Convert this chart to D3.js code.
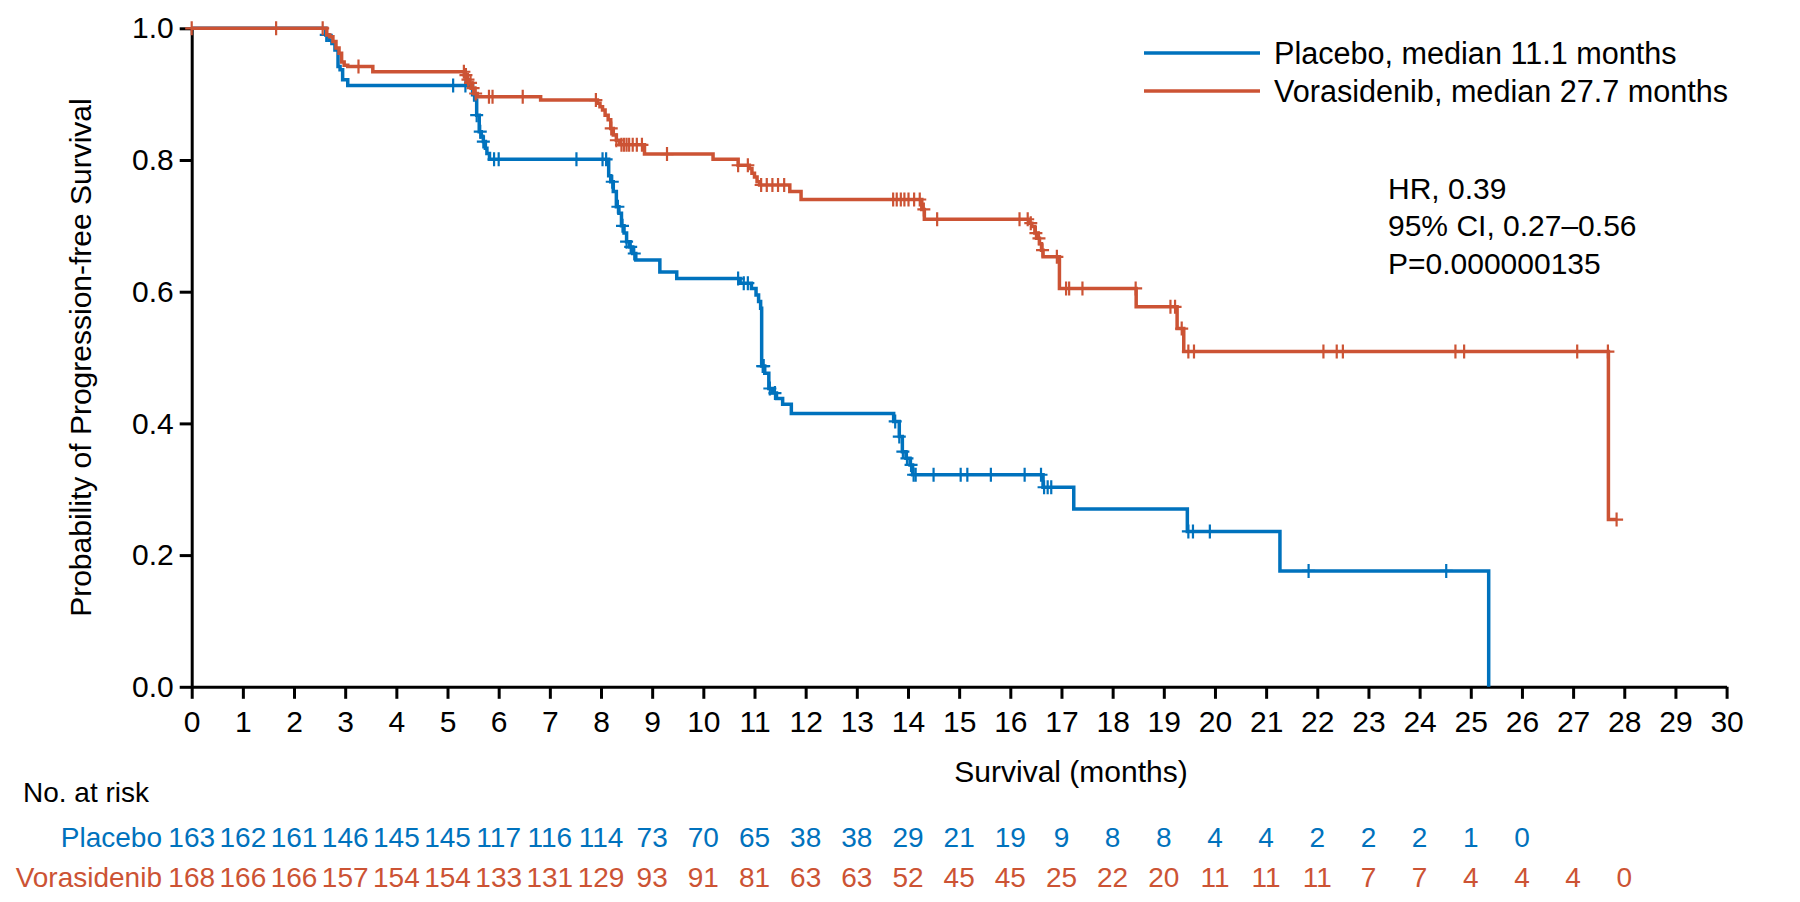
<!DOCTYPE html>
<html><head><meta charset="utf-8">
<script src="https://cdn.jsdelivr.net/npm/d3@7"></script>
<style>
body{margin:0;background:#fff;}
svg text{font-family:"Liberation Sans",Arial,Helvetica,sans-serif;}
</style></head><body>
<svg id="chart" width="1800" height="902"></svg>
<script>
// ---------------- data ----------------
const xTickValues = [0,1,2,3,4,5,6,7,8,9,10,11,12,13,14,15,16,17,18,19,20,21,22,23,24,25,26,27,28,29,30];
const yTickValues = [0,0.2,0.4,0.6,0.8,1.0];

// Placebo KM steps: time (months) and survival after the step
const placeboTimes = [2.62,2.68,2.74,2.80,2.86,2.90,2.95,3.05,
  5.49,5.53,5.57,5.62,5.66,5.70,5.74,5.77,5.82,
  8.15,8.19,8.24,8.30,8.35,8.40,8.45,8.50,8.56,8.62,8.68,
  9.15,9.48,10.72,10.94,11.03,11.08,11.12,11.14,11.20,11.28,11.35,11.43,11.55,11.72,
  13.72,13.83,13.89,13.96,14.04,14.09,16.64,17.24,19.46,21.27,25.35];
const placeboSurv = [0.990,0.982,0.977,0.967,0.942,0.937,0.922,0.913,
  0.899,0.891,0.868,0.843,0.835,0.828,0.818,0.810,0.801,
  0.776,0.767,0.752,0.729,0.719,0.700,0.689,0.676,0.668,0.658,0.648,
  0.630,0.620,0.613,0.605,0.595,0.585,0.575,0.487,0.476,0.453,0.446,0.438,0.429,0.415,
  0.403,0.380,0.357,0.347,0.337,0.322,0.303,0.270,0.236,0.176,0.000];
const placeboCensor = [2.63,5.11,5.35,5.57,5.64,5.70,5.91,6.00,7.52,8.03,8.10,8.22,8.33,8.42,8.50,8.58,8.65,
  10.68,10.79,10.87,11.16,11.18,11.30,11.40,13.75,13.83,13.90,13.98,14.06,14.11,14.15,14.50,15.03,15.16,15.62,
  16.28,16.60,16.66,16.73,16.80,19.48,19.57,19.90,21.83,24.52];
const placeboEnd = 25.35;

// Vorasidenib KM steps
const vorasTimes = [2.64,2.70,2.76,2.82,2.88,2.93,2.98,3.05,3.54,
  5.33,5.37,5.42,5.47,5.53,5.58,6.82,
  7.93,7.98,8.03,8.08,8.14,8.19,8.24,8.30,8.36,8.85,10.19,
  10.68,10.90,10.95,11.00,11.05,11.10,11.69,11.91,
  14.27,14.32,16.37,16.42,16.48,16.52,16.57,16.61,16.64,16.96,18.46,19.26,19.39,27.69];
const vorasSurv = [0.990,0.987,0.980,0.970,0.962,0.949,0.944,0.942,0.934,
  0.929,0.922,0.917,0.909,0.901,0.896,0.891,
  0.886,0.881,0.876,0.868,0.861,0.848,0.838,0.830,0.823,0.809,0.801,
  0.792,0.787,0.780,0.774,0.767,0.762,0.752,0.740,
  0.725,0.710,0.704,0.699,0.689,0.681,0.673,0.663,0.653,0.605,0.577,0.544,0.509,0.254];
const vorasCensor = [0.0,1.65,2.56,3.26,5.32,5.36,5.40,5.45,5.50,5.55,5.81,5.88,6.47,7.90,8.20,8.30,8.40,8.45,8.50,8.55,8.62,8.70,8.80,
  9.29,10.68,10.87,11.13,11.24,11.35,11.46,11.58,13.71,13.78,13.86,13.93,14.01,14.12,14.23,14.31,14.57,
  16.18,16.34,16.40,16.50,16.56,16.63,16.91,17.09,17.15,17.41,18.45,19.13,19.22,19.35,19.48,19.59,
  22.12,22.38,22.50,24.70,24.87,27.08,27.68,27.85];
const vorasEnd = 27.85;

const atRiskMonths = xTickValues;
const placeboAtRisk = [163,162,161,146,145,145,117,116,114,73,70,65,38,38,29,21,19,9,8,8,4,4,2,2,2,1,0];
const vorasAtRisk = [168,166,166,157,154,154,133,131,129,93,91,81,63,63,52,45,45,25,22,20,11,11,11,7,7,4,4,4,0];

const legendLabels = ["Placebo, median 11.1 months","Vorasidenib, median 27.7 months"];
const statsLines = ["HR, 0.39","95% CI, 0.27\u20130.56","P=0.000000135"];
const seriesNames = ["Placebo","Vorasidenib"];

// ---------------- drawing ----------------
const BLUE = "#0072BD", RED = "#CC5334";
const svg = d3.select("#chart");
const x = d3.scaleLinear().domain([0,30]).range([191.7,1726.6]);
const y = d3.scaleLinear().domain([0,1]).range([686.8,28.3]);

function kmPoints(times, surv, end){
  const pts = [[0,1]];
  times.forEach((t,i)=>pts.push([t,surv[i]]));
  pts.push([end, surv[surv.length-1]]);
  return pts;
}
function survAt(times, surv, t){
  let s = 1;
  for(let i=0;i<times.length;i++){ if(times[i] <= t) s = surv[i]; }
  return s;
}
const line = d3.line().x(d=>x(d[0])).y(d=>y(d[1])).curve(d3.curveStepAfter);

function drawSeries(times, surv, censor, end, color){
  const g = svg.append("g");
  g.append("path").datum(kmPoints(times,surv,end))
    .attr("d", line).attr("fill","none").attr("stroke",color)
    .attr("stroke-width",3.5).attr("stroke-linejoin","miter");
  g.selectAll("path.c").data(censor).enter().append("path").attr("class","c")
    .attr("d", t=>{ const cx=x(t), cy=y(survAt(times,surv,t));
      return `M${cx-6.5},${cy}H${cx+6.5}M${cx},${cy-7}V${cy+7}`; })
    .attr("stroke",color).attr("stroke-width",2.2).attr("fill","none");
}

// axes
const yAxis = d3.axisLeft(y).tickValues(yTickValues).tickFormat(d3.format(".1f"))
  .tickSize(12).tickSizeOuter(0).tickPadding(6);
const xAxis = d3.axisBottom(x).tickValues(xTickValues).tickFormat(d3.format("d"))
  .tickSize(12).tickSizeOuter(0).tickPadding(12);

const gy = svg.append("g").attr("transform",`translate(${x(0)},0)`).call(yAxis);
const gx = svg.append("g").attr("transform",`translate(0,${y(0)})`).call(xAxis);
[gx,gy].forEach(g=>{
  g.select(".domain").attr("stroke","#000").attr("stroke-width",3);
  g.selectAll(".tick line").attr("stroke","#000").attr("stroke-width",3);
  g.selectAll(".tick text").attr("fill","#000").style("font-size","30px");
});

drawSeries(placeboTimes, placeboSurv, placeboCensor, placeboEnd, BLUE);
drawSeries(vorasTimes, vorasSurv, vorasCensor, vorasEnd, RED);

// axis titles
svg.append("text").attr("transform",`translate(80,${(y(0)+y(1))/2}) rotate(-90)`)
  .attr("text-anchor","middle").attr("dy","0.35em").style("font-size","30px")
  .text("Probability of Progression-free Survival");
svg.append("text").attr("x",1071).attr("y",771).attr("dy","0.35em")
  .attr("text-anchor","middle").style("font-size","30px").text("Survival (months)");

// legend
const legColors = [BLUE, RED];
legendLabels.forEach((lab,i)=>{
  const ly = 53 + i*38;
  svg.append("line").attr("x1",1144).attr("x2",1260).attr("y1",ly).attr("y2",ly)
    .attr("stroke",legColors[i]).attr("stroke-width",3.5);
  svg.append("text").attr("x",1274).attr("y",ly).attr("dy","0.35em")
    .style("font-size","30.6px").text(lab);
});

// stats
statsLines.forEach((s,i)=>{
  svg.append("text").attr("x",1388).attr("y",188 + i*37.5).attr("dy","0.35em")
    .style("font-size","30px").text(s);
});

// risk table
svg.append("text").attr("x",23).attr("y",792).attr("dy","0.35em").style("font-size","28px").text("No. at risk");
const rows = [[placeboAtRisk, BLUE, 837],[vorasAtRisk, RED, 877]];
rows.forEach(([vals,color,ry],k)=>{
  svg.append("text").attr("x",162).attr("y",ry).attr("dy","0.35em").attr("text-anchor","end")
    .attr("fill",color).style("font-size","28px").text(seriesNames[k]);
  svg.append("g").selectAll("text").data(vals).enter().append("text")
    .attr("x",(d,i)=>x(atRiskMonths[i])).attr("y",ry).attr("dy","0.35em")
    .attr("text-anchor","middle").attr("fill",color).style("font-size","28px").text(d=>d);
});
</script>
</body></html>
